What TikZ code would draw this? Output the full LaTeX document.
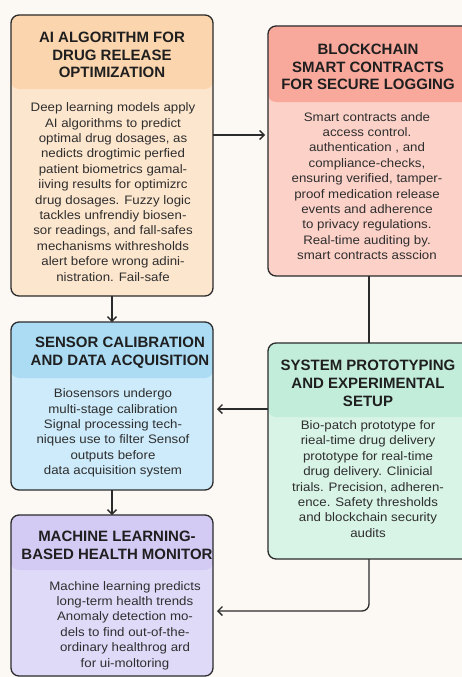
\documentclass[tikz,border=0pt]{standalone}
\usepackage{fontspec}
\setmainfont{Liberation Sans}[FakeStretch=1.08]
\newfontfamily\ttlfont{Liberation Sans}
\usetikzlibrary{arrows.meta}

\definecolor{paper}{HTML}{FCF9F5}
\definecolor{edge}{HTML}{2B2B2B}
\definecolor{ink}{HTML}{2E2E2E}
\definecolor{ttlink}{HTML}{1F1F1F}
\definecolor{aiHead}{HTML}{FBD5AE}
\definecolor{aiBody}{HTML}{FDE6CE}
\definecolor{bcHead}{HTML}{F9A89C}
\definecolor{bcBody}{HTML}{FCD1C8}
\definecolor{scHead}{HTML}{ABDCF4}
\definecolor{scBody}{HTML}{CDEBFA}
\definecolor{spHead}{HTML}{C2EDDA}
\definecolor{spBody}{HTML}{D8F4E7}
\definecolor{mlHead}{HTML}{D3CBF4}
\definecolor{mlBody}{HTML}{E0DAF9}

\tikzset{
  panel/.style={draw=edge, line width=1.3pt, rounded corners=8pt,
    inner sep=0pt, outer sep=0pt, minimum width=202pt},
  band/.style 2 args={path picture={
    \fill[#1] (path picture bounding box.north west)
      rectangle ([yshift=-#2]path picture bounding box.north east);}},
  ttl/.style={text=ttlink, align=center, inner sep=0pt,
    font=\ttlfont\bfseries\fontsize{15}{17.8}\selectfont},
  txt/.style={text=ink, align=center, inner sep=0pt,
    font=\fontsize{12.3}{15.4}\selectfont},
  link/.style={draw=edge, line width=1.3pt},
  arr/.style={link, -{Straight Barb[length=4.5pt,width=9pt]}},
}

\begin{document}
\begin{tikzpicture}[x=1pt,y=-1pt]
\useasboundingbox (0,0) rectangle (462,677);
\clip (0,0) rectangle (462,677);
\fill[paper] (0,0) rectangle (462,677);

% panels
\node[panel, fill=aiBody, band={aiHead}{74pt}, minimum height=281pt] (ai) at (112,155.5) {};
\node[panel, fill=bcBody, band={bcHead}{76pt}, minimum height=250pt] (bc) at (369,151) {};
\node[panel, fill=scBody, band={scHead}{56pt}, minimum height=168pt] (sc) at (112,406) {};
\node[panel, fill=spBody, band={spHead}{74pt}, minimum height=216pt] (sp) at (369,451) {};
\node[panel, fill=mlBody, band={mlHead}{55pt}, minimum height=161pt] (ml) at (112,595.5) {};

% titles
\node[ttl] (aiT) at (112,55) {AI ALGORITHM FOR\\DRUG RELEASE\\OPTIMIZATION};
\node[ttl] (bcT) at (368,67) {BLOCKCHAIN\\SMART CONTRACTS\\FOR SECURE LOGGING};
\node[ttl] (scT) at (120,352.5) {SENSOR CALIBRATION\\AND DATA ACQUISITION};
\node[ttl] (spT) at (368,383.5) {SYSTEM PROTOTYPING\\AND EXPERIMENTAL\\SETUP};
\node[ttl] (mlT) at (117,545.5) {MACHINE LEARNING-\\BASED HEALTH MONITOR};

% descriptions
\node[txt] (aiX) at (113,192) {Deep learning models apply\\AI algorithms to predict\\optimal drug dosages, as\\nedicts drogtimic perfied\\patient biometrics gamal-\\iiving results for optimizrc\\drug dosages. Fuzzy logic\\tackles unfrendiy biosen-\\sor readings, and fall-safes\\mechanisms withresholds\\alert before wrong adini-\\nistration. Fail-safe};
\node[txt] (bcX) at (367,186) {Smart contracts ande\\access control.\\authentication , and\\compliance-checks,\\ensuring verified, tamper-\\proof medication release\\events and adherence\\to privacy regulations.\\Real-time auditing by.\\smart contracts asscion};
\node[txt] (scX) at (113,433) {Biosensors undergo\\multi-stage calibration\\Signal processing tech-\\niques use to filter Sensof\\outputs before\\data acquisition system};
\node[txt] (spX) at (368,479) {Bio-patch prototype for\\rieal-time drug delivery\\prototype for real-time\\drug delivery. Clinicial\\trials. Precision, adheren-\\ence. Safety thresholds\\and blockchain security\\audits};
\node[txt] (mlX) at (125,625.5) {Machine learning predicts\\long-term health trends\\Anomaly detection mo-\\dels to find out-of-the-\\ordinary healthrog ard\\for ui-moltoring};

% connectors
\draw[arr, shorten >=3pt] ([yshift=20.5pt]ai.east) -- ([yshift=20.5pt]ai.east -| bc.west);
\draw[arr] (ai.south) -- (sc.north);
\draw[link] (bc.south) -- (sp.north);
\draw[arr, shorten >=4pt] ([yshift=42pt]sp.west) -- ([yshift=42pt]sp.west -| sc.east);
\draw[arr] (sc.south) -- (ml.north);
\draw[arr, shorten >=4pt, rounded corners=7pt] (sp.south) |- ([yshift=-15.5pt]ml.east);
\end{tikzpicture}
\end{document}
